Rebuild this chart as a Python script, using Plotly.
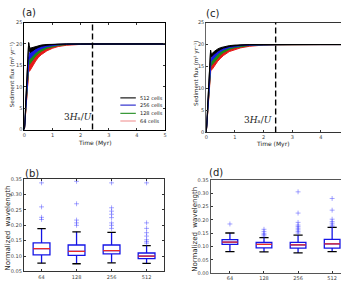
import plotly.graph_objects as go

W, H = 343, 282

# ---------------- data: sediment flux time series (bands: lower / upper) ----------------
t = [0, 0.05, 0.10, 0.15, 0.17, 0.20, 0.25, 0.30, 0.40, 0.50, 0.60, 0.80, 1.00, 1.20, 1.50, 2.00, 2.50, 3.00, 4.00, 5.00]

# panel (a)
a_512_hi = [0, 6.8, 13.5, 20.3, 19.6, 19.0, 19.1, 19.3, 19.5, 19.65, 19.75, 19.88, 19.94, 19.97, 19.99, 20, 20, 20, 20, 20]
a_512_lo = [0, 6.8, 13.5, 20.3, 18.6, 18.0, 18.2, 18.5, 18.9, 19.2, 19.45, 19.72, 19.86, 19.93, 19.98, 20, 20, 20, 20, 20]
a_256_hi = [0, 5.7, 11.3, 17.0, 17.9, 18.0, 18.3, 18.6, 19.0, 19.3, 19.5, 19.75, 19.88, 19.94, 19.98, 20, 20, 20, 20, 20]
a_256_lo = [0, 5.7, 11.3, 17.0, 16.4, 16.6, 17.0, 17.4, 18.0, 18.5, 18.9, 19.4, 19.65, 19.8, 19.92, 19.98, 20, 20, 20, 20]
a_128_hi = [0, 5.2, 10.3, 15.5, 16.6, 16.9, 17.3, 17.7, 18.3, 18.7, 19.0, 19.5, 19.75, 19.88, 19.95, 19.99, 20, 20, 20, 20]
a_128_lo = [0, 5.2, 10.3, 15.5, 15.2, 15.4, 15.9, 16.4, 17.2, 17.8, 18.3, 19.0, 19.4, 19.65, 19.85, 19.96, 20, 20, 20, 20]
a_64_hi = [0, 4.6, 9.2, 13.8, 15.3, 15.6, 16.2, 16.7, 17.5, 18.1, 18.5, 19.1, 19.5, 19.72, 19.88, 19.97, 20, 20, 20, 20]
a_64_lo = [0, 4.6, 9.2, 13.8, 13.6, 13.8, 14.4, 15.0, 16.0, 16.9, 17.5, 18.4, 19.0, 19.4, 19.7, 19.9, 19.97, 20, 20, 20]

# panel (c)
c_512_hi = [0, 6.2, 12.5, 18.7, 17.8, 17.9, 18.3, 18.6, 19.0, 19.3, 19.5, 19.75, 19.88, 19.94, 19.98, 20, 20, 20, 20, 20]
c_512_lo = [0, 6.2, 12.5, 18.7, 17.2, 17.3, 17.7, 18.0, 18.5, 18.9, 19.2, 19.55, 19.75, 19.86, 19.95, 20, 20, 20, 20, 20]
c_256_hi = [0, 5.5, 11.0, 16.5, 17.0, 17.2, 17.6, 18.0, 18.5, 18.9, 19.2, 19.55, 19.75, 19.86, 19.95, 20, 20, 20, 20, 20]
c_256_lo = [0, 5.5, 11.0, 16.5, 16.2, 16.4, 16.8, 17.2, 17.9, 18.4, 18.8, 19.3, 19.55, 19.72, 19.88, 19.98, 20, 20, 20, 20]
c_128_hi = [0, 5.2, 10.3, 15.5, 16.2, 16.4, 16.8, 17.2, 17.9, 18.4, 18.8, 19.3, 19.55, 19.72, 19.88, 19.98, 20, 20, 20, 20]
c_128_lo = [0, 5.2, 10.3, 15.5, 15.2, 15.4, 15.8, 16.3, 17.1, 17.7, 18.2, 18.9, 19.3, 19.55, 19.78, 19.94, 19.99, 20, 20, 20]
c_64_hi = [0, 4.8, 9.7, 14.5, 15.3, 15.5, 15.9, 16.4, 17.2, 17.8, 18.2, 18.9, 19.3, 19.55, 19.78, 19.94, 19.99, 20, 20, 20]
c_64_lo = [0, 4.8, 9.7, 14.5, 14.2, 14.3, 14.8, 15.3, 16.2, 16.9, 17.5, 18.4, 18.9, 19.25, 19.6, 19.88, 19.97, 20, 20, 20]

t_dash = 2.42
series_labels = ["512 cells", "256 cells", "128 cells", "64 cells"]

# ---------------- data: normalized wavelength box statistics ----------------
box_pos = [1, 2, 3, 4]
box_labels = ["64", "128", "256", "512"]

b_lo = [0.077, 0.075, 0.078, 0.076]
b_q1 = [0.104, 0.102, 0.107, 0.092]
b_med = [0.124, 0.115, 0.118, 0.100]
b_q3 = [0.143, 0.136, 0.136, 0.110]
b_hi = [0.189, 0.179, 0.177, 0.134]
b_out = [
    [0.219, 0.226, 0.260, 0.338],
    [0.200, 0.208, 0.217, 0.270, 0.343],
    [0.190, 0.200, 0.208, 0.225, 0.236, 0.246, 0.257, 0.338],
    [0.142, 0.147, 0.153, 0.165, 0.176, 0.190, 0.208, 0.338],
]

d_lo = [0.081, 0.080, 0.076, 0.081]
d_q1 = [0.108, 0.095, 0.094, 0.094]
d_med = [0.117, 0.108, 0.106, 0.110]
d_q3 = [0.126, 0.116, 0.116, 0.127]
d_hi = [0.151, 0.134, 0.143, 0.172]
d_out = [
    [0.185],
    [0.140, 0.145, 0.150, 0.157, 0.165],
    [0.151, 0.157, 0.163, 0.169, 0.175, 0.181, 0.191, 0.226, 0.306],
    [0.176, 0.181, 0.188, 0.194, 0.203, 0.237, 0.281],
]

# ---------------- styling ----------------
COL = {"512 cells": "rgb(0,0,0)", "256 cells": "rgb(25,25,230)",
       "128 cells": "rgb(25,140,25)", "64 cells": "rgb(230,25,25)"}
LEG_COL = {"512 cells": "#222222", "256 cells": "#3a3ad0", "128 cells": "#3a9a3a", "64 cells": "#f08a8a"}
FONT = "DejaVu Sans"

fig = go.Figure()


def add_bands(bands, xa, ya):
    # draw lowest resolution first so the finest sits on top
    for name, lo, hi in bands:
        fig.add_trace(go.Scatter(x=t, y=lo, mode="lines", line=dict(color=COL[name], width=1),
                                 xaxis=xa, yaxis=ya, showlegend=False, hoverinfo="skip"))
        fig.add_trace(go.Scatter(x=t, y=hi, mode="lines", line=dict(color=COL[name], width=1),
                                 fill="tonexty", fillcolor=COL[name], name=name,
                                 xaxis=xa, yaxis=ya, showlegend=False))


add_bands([("64 cells", a_64_lo, a_64_hi), ("128 cells", a_128_lo, a_128_hi),
           ("256 cells", a_256_lo, a_256_hi), ("512 cells", a_512_lo, a_512_hi)], "x", "y")
add_bands([("64 cells", c_64_lo, c_64_hi), ("128 cells", c_128_lo, c_128_hi),
           ("256 cells", c_256_lo, c_256_hi), ("512 cells", c_512_lo, c_512_hi)], "x2", "y2")


def add_boxes(lo, q1, med, q3, hi, outs, xa, ya, bw, cw):
    fig.add_trace(go.Box(x=box_pos, lowerfence=lo, q1=q1, median=med, q3=q3, upperfence=hi,
                         width=bw, whiskerwidth=0, fillcolor="white",
                         line=dict(color="rgb(20,20,230)", width=1.3),
                         xaxis=xa, yaxis=ya, showlegend=False, boxpoints=False))
    for i, p in enumerate(box_pos):
        # red median
        fig.add_trace(go.Scatter(x=[p - bw / 2, p + bw / 2], y=[med[i], med[i]], mode="lines",
                                 line=dict(color="rgb(235,40,40)", width=1.3),
                                 xaxis=xa, yaxis=ya, showlegend=False, hoverinfo="skip"))
        # black caps
        fig.add_trace(go.Scatter(x=[p - cw / 2, p + cw / 2, None, p - cw / 2, p + cw / 2],
                                 y=[lo[i], lo[i], None, hi[i], hi[i]], mode="lines",
                                 line=dict(color="black", width=1.3),
                                 xaxis=xa, yaxis=ya, showlegend=False, hoverinfo="skip"))
        # outliers
        fig.add_trace(go.Scatter(x=[p] * len(outs[i]), y=outs[i], mode="markers",
                                 marker=dict(symbol="cross-thin", size=3.5,
                                             line=dict(color="rgba(60,60,255,0.5)", width=0.9)),
                                 xaxis=xa, yaxis=ya, showlegend=False))


add_boxes(b_lo, b_q1, b_med, b_q3, b_hi, b_out, "x3", "y3", 0.48, 0.24)
add_boxes(d_lo, d_q1, d_med, d_q3, d_hi, d_out, "x4", "y4", 0.46, 0.27)


def px(v):
    return v / W


def py(v):
    return 1 - v / H


tickfont = dict(family=FONT, size=5, color="#444")
common = dict(showgrid=False, zeroline=False, ticks="inside", ticklen=2, tickwidth=0.6,
              tickcolor="#333", tickfont=tickfont, showline=True)

fig.update_layout(
    width=W, height=H, margin=dict(l=0, r=0, t=0, b=0),
    paper_bgcolor="white", plot_bgcolor="white", showlegend=False,
    xaxis=dict(domain=[px(22.7), px(165)], range=[0, 5], anchor="y", tickvals=[0, 1, 2, 3, 4, 5],
               linecolor="black", linewidth=1, mirror="ticks", **common),
    yaxis=dict(domain=[py(129.3), py(20)], range=[0, 25], anchor="x", tickvals=[0, 5, 10, 15, 20, 25],
               linecolor="black", linewidth=1, mirror="ticks", **common),
    xaxis2=dict(domain=[px(206.7), 1], range=[0, 4.70], anchor="y2", tickvals=[0, 1, 2, 3, 4],
                linecolor="#333", linewidth=1, mirror=True, **common),
    yaxis2=dict(domain=[py(132.3), py(20)], range=[0, 25], anchor="x2", tickvals=[0, 5, 10, 15, 20, 25],
                linecolor="#666", linewidth=1, **common),
    xaxis3=dict(domain=[px(22.3), px(164)], range=[0.5, 4.5], anchor="y3", tickvals=box_pos,
                ticktext=box_labels, linecolor="#333", linewidth=1.4, mirror="ticks", **common),
    yaxis3=dict(domain=[py(274.3), py(180)], range=[0.05, 0.35], anchor="x3",
                tickvals=[0.05, 0.10, 0.15, 0.20, 0.25, 0.30, 0.35], tickformat=".2f",
                linecolor="#333", linewidth=1.4, mirror="ticks", **common),
    xaxis4=dict(domain=[px(211.3), 1], range=[0.44, 4.26], anchor="y4", tickvals=box_pos,
                ticktext=box_labels, linecolor="#555", linewidth=1.2, mirror=True, **common),
    yaxis4=dict(domain=[py(276), py(181)], range=[0, 0.35], anchor="x4",
                tickvals=[0, 0.05, 0.10, 0.15, 0.20, 0.25, 0.30, 0.35], tickformat=".2f",
                linecolor="#555", linewidth=1.2, **common),
)

# dashed 3Hs/U lines
for xr, yr in (("x", "y"), ("x2", "y2")):
    fig.add_shape(type="line", xref=xr, yref=yr + " domain", x0=t_dash, x1=t_dash, y0=0, y1=1,
                  line=dict(color="black", width=1.4, dash="6px,3px"))

# legend for panel (a)
leg_y = [7.4, 5.7, 3.8, 2.0]
for name, ly in zip(series_labels, leg_y):
    fig.add_shape(type="line", xref="x", yref="y", x0=3.41, x1=3.96, y0=ly, y1=ly,
                  line=dict(color=LEG_COL[name], width=1.2))
    fig.add_annotation(x=4.03, y=ly, xref="x", yref="y", text=name, showarrow=False,
                       xanchor="left", yanchor="middle",
                       font=dict(family=FONT, size=5, color="#222"))

ann = [
    ("(a)", px(27.5), py(9.5), 10, 0),
    ("(c)", px(213), py(11), 10, 0),
    ("(b)", px(30), py(174.5), 10, 0),
    ("(d)", px(217), py(173), 10, 0),
    ("Time (Myr)", px(94), py(143), 6, 0),
    ("Time (Myr)", px(274), py(144), 6, 0),
    ("Sediment flux (m² yr⁻¹)", px(11), py(73), 5.6, -90),
    ("Sediment flux (m² yr⁻¹)", px(196.8), py(72), 5.6, -90),
    ("Normalized  wavelength", px(6.5), py(230), 7, -90),
    ("Normalized  wavelength", px(195), py(231), 7, -90),
]
for text, x, y, s, ang in ann:
    fig.add_annotation(x=x, y=y, xref="paper", yref="paper", text=text, showarrow=False,
                       xanchor="center", yanchor="middle", textangle=ang,
                       font=dict(family=FONT, size=s, color="#222"))

for x, y in ((px(77), py(116)), (px(259), py(120))):
    fig.add_annotation(x=x, y=y, xref="paper", yref="paper",
                       text="3<i>H</i>ₛ/<i>U</i>", showarrow=False,
                       xanchor="center", yanchor="middle",
                       font=dict(family="DejaVu Serif", size=9, color="#222"))

fig.write_html("out.html")
